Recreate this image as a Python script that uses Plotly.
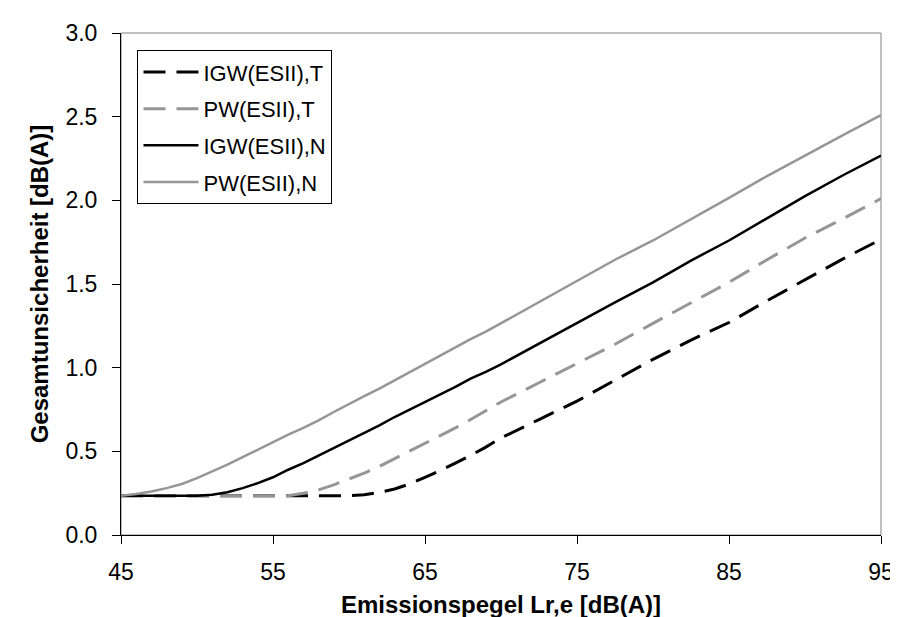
import plotly.graph_objects as go

# Emissionspegel Lr,e [dB(A)]
x_vals = [45, 46, 47, 48, 49, 50, 51, 52, 53, 54, 55, 56, 57, 58, 59, 60,
          61, 62, 63, 64, 65, 66, 67, 68, 69, 70, 72.5, 75, 77.5, 80,
          82.5, 85, 87.5, 90, 92.5, 95]

igw_t = [0.235, 0.235, 0.235, 0.235, 0.235, 0.235, 0.235, 0.235, 0.235, 0.235,
         0.235, 0.235, 0.235, 0.235, 0.235, 0.235, 0.24, 0.255, 0.275, 0.305,
         0.345, 0.385, 0.43, 0.475, 0.525, 0.58, 0.69, 0.80, 0.925, 1.05,
         1.165, 1.27, 1.40, 1.525, 1.65, 1.767]

pw_t = [0.235, 0.235, 0.235, 0.235, 0.235, 0.235, 0.235, 0.235, 0.235, 0.235,
        0.235, 0.235, 0.25, 0.27, 0.30, 0.335, 0.37, 0.41, 0.455, 0.50,
        0.55, 0.595, 0.64, 0.69, 0.745, 0.795, 0.91, 1.025, 1.14, 1.265,
        1.39, 1.51, 1.645, 1.775, 1.89, 2.01]

igw_n = [0.235, 0.235, 0.235, 0.235, 0.235, 0.235, 0.24, 0.255, 0.28, 0.31,
         0.345, 0.39, 0.43, 0.475, 0.52, 0.565, 0.61, 0.655, 0.705, 0.75,
         0.795, 0.84, 0.885, 0.935, 0.975, 1.02, 1.145, 1.265, 1.39, 1.51,
         1.64, 1.76, 1.895, 2.025, 2.15, 2.267]

pw_n = [0.235, 0.245, 0.26, 0.28, 0.305, 0.34, 0.38, 0.42, 0.465, 0.51,
        0.555, 0.60, 0.64, 0.685, 0.735, 0.785, 0.83, 0.875, 0.925, 0.975,
        1.02, 1.07, 1.12, 1.17, 1.215, 1.265, 1.39, 1.515, 1.645, 1.76,
        1.885, 2.015, 2.145, 2.27, 2.39, 2.51]

series_names = ["IGW(ESII),T", "PW(ESII),T", "IGW(ESII),N", "PW(ESII),N"]
x_ticks = [45, 55, 65, 75, 85, 95]
y_ticks = [0.0, 0.5, 1.0, 1.5, 2.0, 2.5, 3.0]

BLACK = "#000000"
GRAY = "#969696"
FONT = "Liberation Sans, Arial, sans-serif"

styles = [
    dict(color=BLACK, width=3, dash="22px,11px"),
    dict(color=GRAY, width=3, dash="22px,11px"),
    dict(color=BLACK, width=2.5, dash="solid"),
    dict(color=GRAY, width=2.5, dash="solid"),
]

fig = go.Figure()
for name, ys, st in zip(series_names, [igw_t, pw_t, igw_n, pw_n], styles):
    fig.add_trace(go.Scatter(x=x_vals, y=ys, mode="lines", name=name,
                             legendgroup=name, line=st))

fig.update_layout(
    width=898, height=617,
    margin=dict(l=113, r=14, t=23, b=89),
    paper_bgcolor="white", plot_bgcolor="white",
    font=dict(family=FONT, size=23, color="black"),
    showlegend=True,
    legend=dict(x=0.0217, y=0.9655, xanchor="left", yanchor="top",
                bordercolor="black", borderwidth=1, bgcolor="white",
                font=dict(size=22), tracegroupgap=5, itemwidth=55),
    shapes=[dict(type="rect", xref="paper", yref="paper", x0=0, y0=0, x1=1, y1=1,
                 line=dict(color="#808080", width=1), layer="below")],
)
fig.update_xaxes(range=[45, 95], tickvals=x_ticks, ticktext=[str(v) for v in x_ticks],
                 showgrid=False, zeroline=False, showline=True, linecolor="black",
                 linewidth=1, ticks="outside", ticklen=8, tickcolor="black",
                 ticklabelstandoff=8, tickfont=dict(size=23),
                 title=dict(text="<b>Emissionspegel Lr,e [dB(A)]</b>",
                            font=dict(size=24), standoff=12))
fig.update_yaxes(range=[0, 3.0], tickvals=y_ticks, ticktext=[f"{v:.1f}" for v in y_ticks],
                 showgrid=False, zeroline=False, showline=True, linecolor="black",
                 linewidth=1, ticks="outside", ticklen=8, tickcolor="black",
                 ticklabelstandoff=10, tickfont=dict(size=23),
                 title=dict(text="<b>Gesamtunsicherheit [dB(A)]</b>",
                            font=dict(size=24), standoff=10))

fig.write_html("out.html")
